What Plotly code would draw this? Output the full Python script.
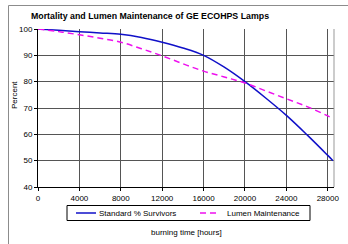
import plotly.graph_objects as go

hours = [0, 2000, 4000, 6000, 8000, 10000, 12000, 14000, 16000, 18000, 20000, 22000, 24000, 26000, 28000, 28500]
survivors = [100, 99.5, 99, 98.5, 98, 96.8, 95, 92.8, 90, 85.5, 80, 73.8, 67.2, 59.8, 52, 50]
lumen = [100, 99, 97.8, 96.5, 95, 92.5, 89.8, 86.8, 84, 81.8, 79.5, 76.5, 73.5, 70.5, 67, 66]
x_ticks = [0, 4000, 8000, 12000, 16000, 20000, 24000, 28000]
x_ticktext = ["0", "4000", "8000", "12000", "16000", "20000", "24000", "28000"]
y_ticks = [40, 50, 60, 70, 80, 90, 100]
series_names = ["Standard % Survivors", "Lumen Maintenance"]
colors = ["#1010c8", "#ee10ee"]

FONT = "Liberation Sans, Arial, sans-serif"

fig = go.Figure()
fig.add_trace(go.Scatter(x=hours, y=survivors, mode="lines", name=series_names[0],
                         line=dict(color=colors[0], width=1.5, shape="spline")))
fig.add_trace(go.Scatter(x=hours, y=lumen, mode="lines", name=series_names[1],
                         line=dict(color=colors[1], width=1.5, dash="6px,4px", shape="spline")))

W, H = 348, 244
L, R, T, B = 38, 14, 29, 57
pw, ph = W - L - R, H - T - B

def px(x):
    return (x - L) / pw

def py(y):
    return (H - B - y) / ph

shapes = [
    dict(type="line", xref="paper", yref="paper", x0=px(8.5), x1=px(348), y0=py(5.5), y1=py(5.5),
         line=dict(color="#8c8c8c", width=1), layer="above"),
    dict(type="line", xref="paper", yref="paper", x0=px(8.5), x1=px(8.5), y0=py(5.5), y1=py(244),
         line=dict(color="#8c8c8c", width=1), layer="above"),
    dict(type="line", xref="paper", yref="paper", x0=1, x1=1, y0=0, y1=1,
         line=dict(color="#999999", width=1)),
    # legend box
    dict(type="rect", xref="paper", yref="paper", x0=px(67), x1=px(310), y0=py(205.5), y1=py(220.5),
         line=dict(color="black", width=1), fillcolor="white"),
    dict(type="line", xref="paper", yref="paper", x0=px(76), x1=px(96), y0=py(213), y1=py(213),
         line=dict(color=colors[0], width=1.5)),
    dict(type="line", xref="paper", yref="paper", x0=px(200), x1=px(219), y0=py(213), y1=py(213),
         line=dict(color=colors[1], width=1.5, dash="6px,4px")),
]

fig.update_layout(
    width=W, height=H,
    margin=dict(l=L, r=R, t=T, b=B, pad=0, autoexpand=False),
    paper_bgcolor="white", plot_bgcolor="white",
    font=dict(family=FONT, size=8, color="black"),
    showlegend=False,
    xaxis=dict(range=[0, 28600], tickvals=x_ticks, ticktext=x_ticktext,
               showgrid=True, gridcolor="#555555", gridwidth=1, automargin=False,
               showline=True, linecolor="black", linewidth=1, mirror=False,
               ticks="outside", ticklen=3, tickcolor="black", zeroline=False,
               tickfont=dict(family=FONT, size=8)),
    yaxis=dict(range=[40, 100], tickvals=y_ticks, automargin=False,
               showgrid=True, gridcolor="#555555", gridwidth=1,
               showline=True, linecolor="black", linewidth=1,
               ticks="outside", ticklen=3, tickcolor="black", zeroline=False,
               tickfont=dict(family=FONT, size=8)),
    shapes=shapes,
    annotations=[
        dict(text="<b>Mortality and Lumen Maintenance of GE ECOHPS Lamps</b>", xref="paper", yref="paper",
             x=px(29), y=py(16), xanchor="left", yanchor="middle", showarrow=False,
             font=dict(family=FONT, size=8.8)),
        dict(text="Percent", xref="paper", yref="paper", x=px(14), y=py(95), textangle=-90,
             xanchor="center", yanchor="middle", showarrow=False, font=dict(family=FONT, size=8)),
        dict(text="burning time [hours]", xref="paper", yref="paper", x=px(186), y=py(232),
             xanchor="center", yanchor="middle", showarrow=False, font=dict(family=FONT, size=8)),
        dict(text=series_names[0], xref="paper", yref="paper", x=px(97), y=py(213),
             xanchor="left", yanchor="middle", showarrow=False, font=dict(family=FONT, size=8)),
        dict(text=series_names[1], xref="paper", yref="paper", x=px(225), y=py(213),
             xanchor="left", yanchor="middle", showarrow=False, font=dict(family=FONT, size=8)),
    ],
)

fig.write_html("out.html", config={"displayModeBar": False},
               post_script="document.body.style.margin='0';document.body.style.padding='0';")
